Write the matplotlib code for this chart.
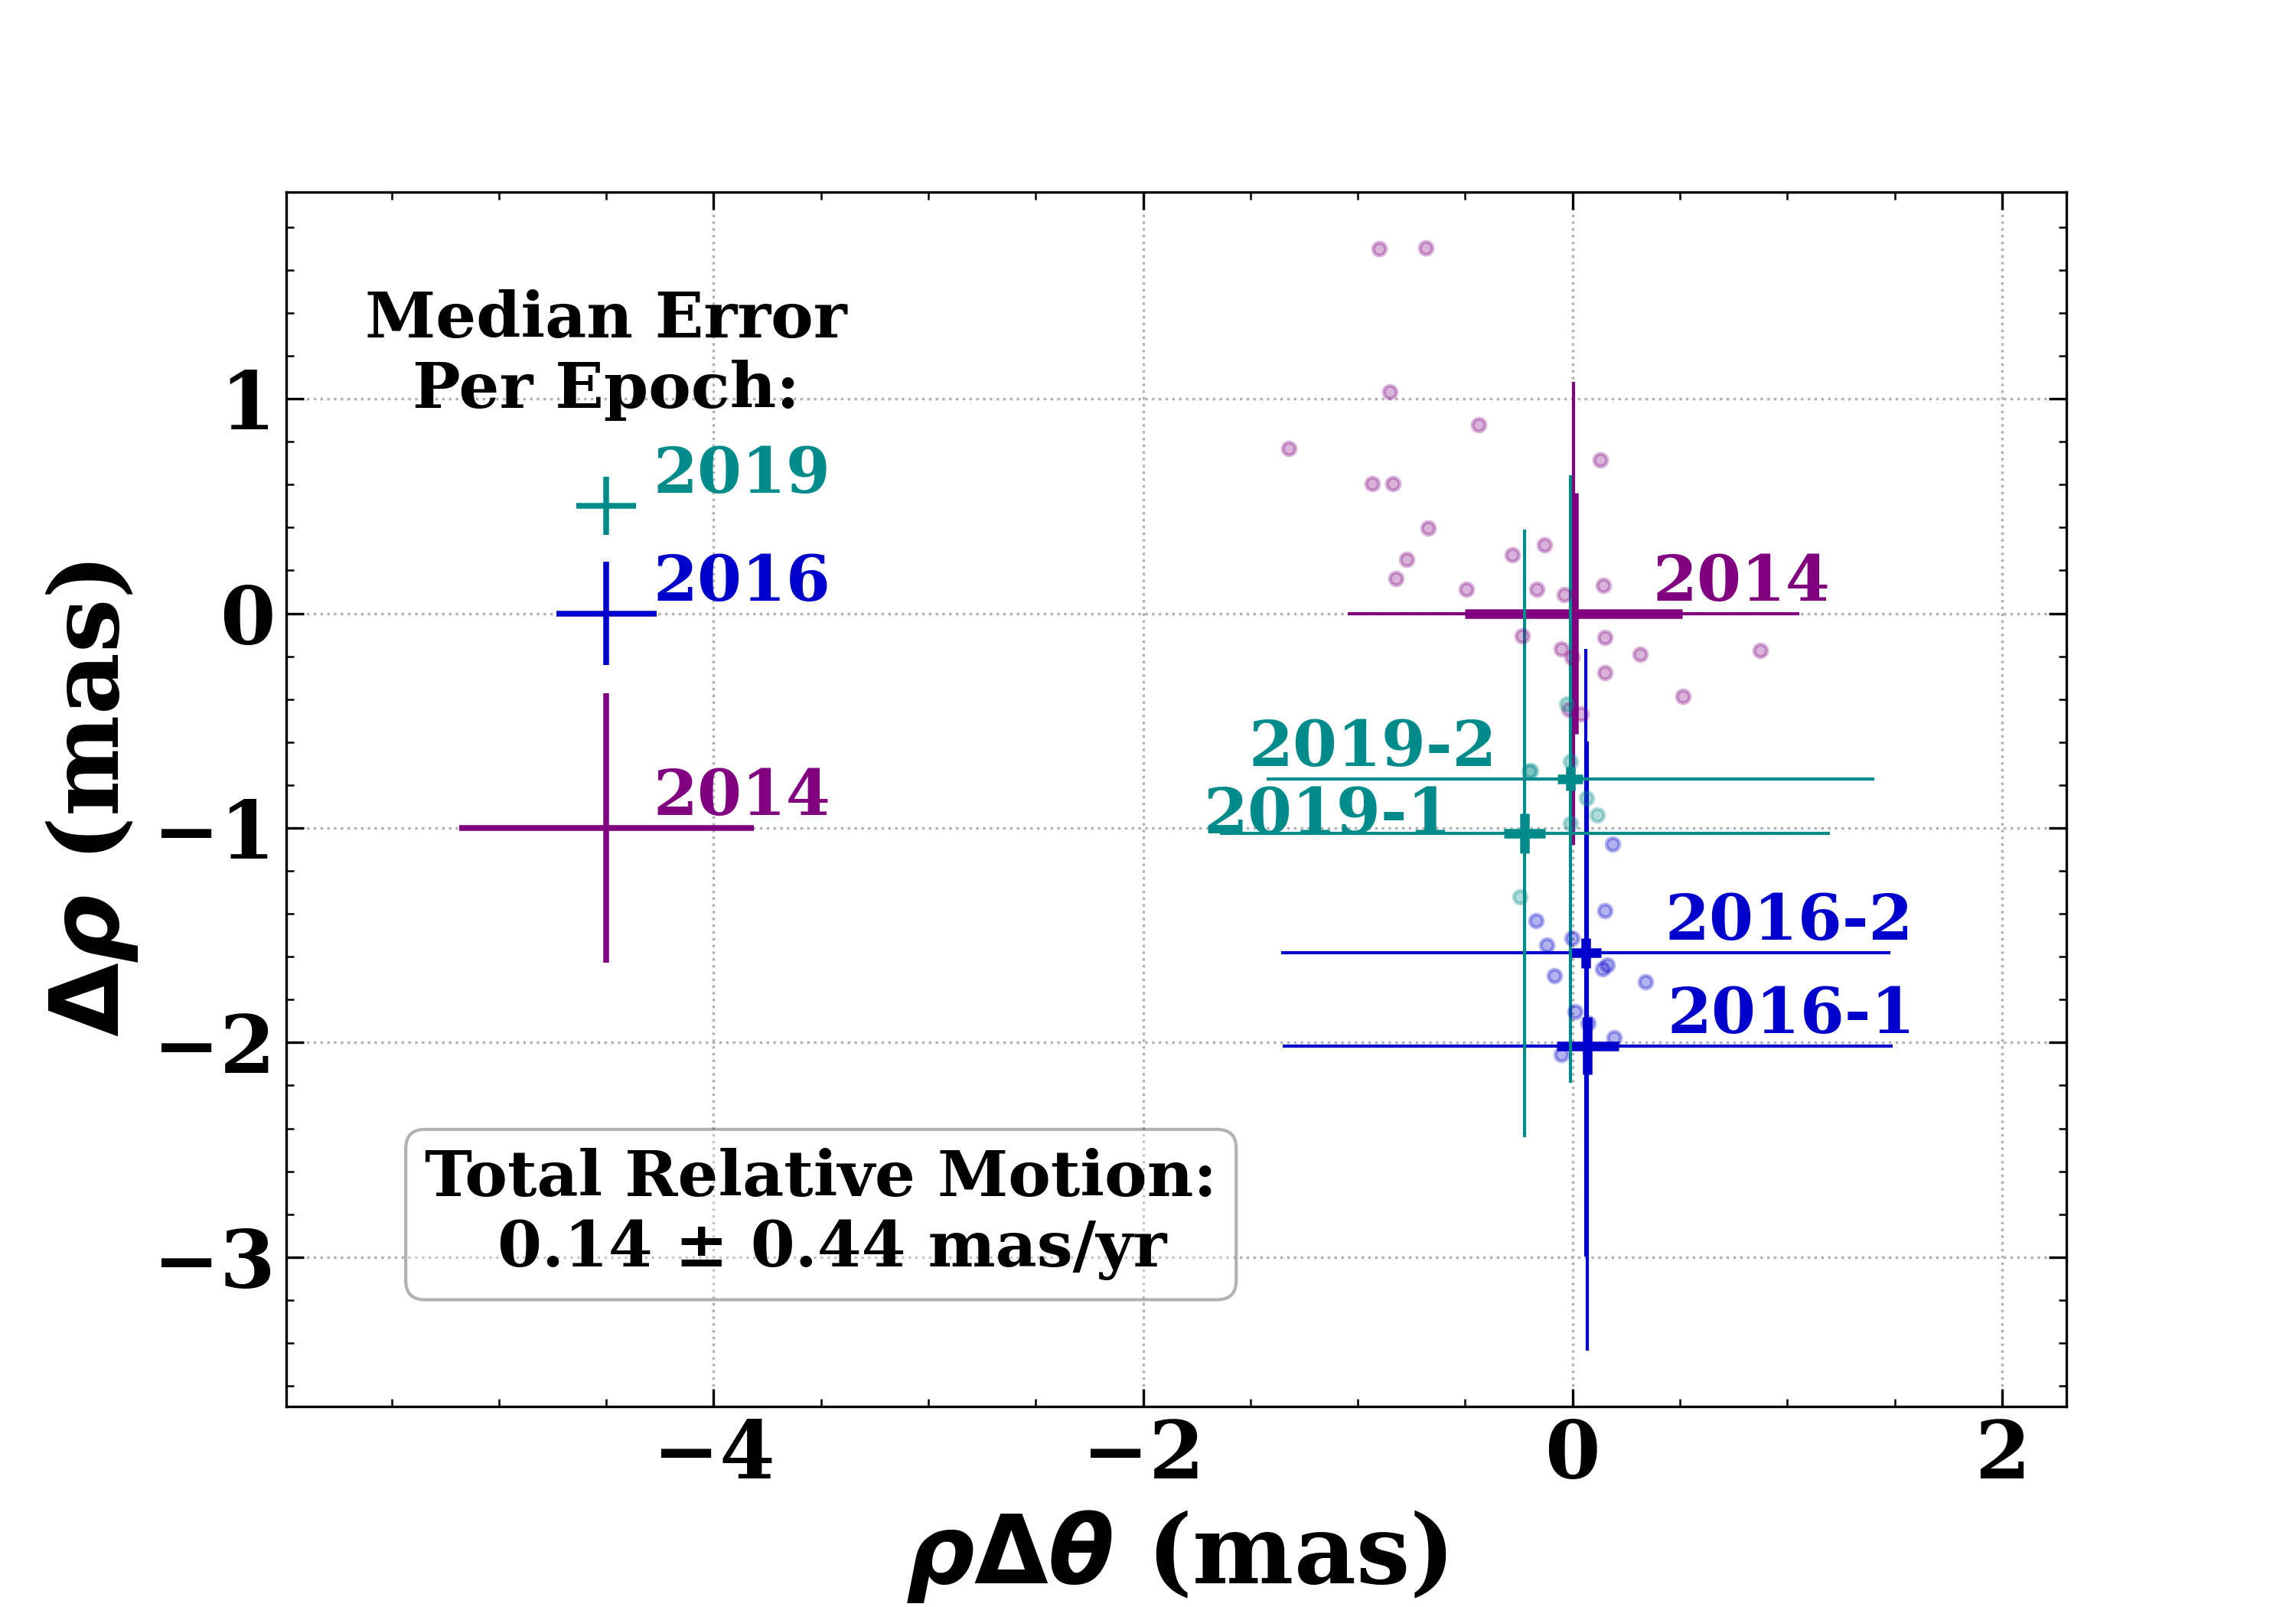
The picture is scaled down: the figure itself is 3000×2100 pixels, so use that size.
import matplotlib.pyplot as plt
from matplotlib.ticker import MultipleLocator

plt.rcParams['font.family'] = ['DejaVu Serif']
plt.rcParams['font.weight'] = 'bold'
plt.rcParams['axes.labelweight'] = 'bold'

PURPLE = '#800080'
BLUE = '#0000CD'
TEAL = '#008B8B'

# epoch positions (mas) with stat. (thick) and total (thin) errors
epochs = ['2014', '2016-1', '2016-2', '2019-1', '2019-2']
ep_x = [0.005, 0.070, 0.062, -0.222, -0.011]
ep_y = [0.000, -2.016, -1.582, -1.024, -0.771]
stat_xerr = [0.506, 0.145, 0.071, 0.096, 0.060]
stat_yerr = [0.563, 0.134, 0.070, 0.092, 0.055]
tot_xerr = [1.052, 1.421, 1.418, 1.420, 1.415]
tot_yerr = [1.078, 1.418, 1.416, 1.416, 1.416]

# median error per epoch
med_years = ['2019', '2016', '2014']
med_y = [0.5, 0.0, -1.0]
med_xerr = [0.138, 0.233, 0.686]
med_yerr = [0.136, 0.241, 0.627]

# individual frames
pts14_x = [-0.902, -0.684, -0.852, -0.439, -1.323, 0.128, -0.932, -0.838, -0.674,
           -0.131, -0.281, -0.772, -0.824, 0.144, -0.495, -0.167, -0.038, -0.234,
           0.151, -0.052, 0.315, 0.873, -0.002, 0.151, 0.514, -0.015, 0.040]
pts14_y = [1.699, 1.703, 1.031, 0.878, 0.768, 0.714, 0.604, 0.604, 0.397,
           0.319, 0.273, 0.250, 0.161, 0.129, 0.112, 0.112, 0.087, -0.105,
           -0.112, -0.166, -0.192, -0.173, -0.205, -0.276, -0.387, -0.446, -0.470]
pts16_x = [0.188, 0.151, -0.170, -0.002, -0.121, 0.160, 0.139, -0.084, 0.339,
           0.013, 0.074, 0.193, -0.053]
pts16_y = [-1.074, -1.387, -1.430, -1.515, -1.544, -1.639, -1.656, -1.689, -1.716,
           -1.857, -1.909, -1.976, -2.054]
pts19_x = [-0.027, -0.010, -0.202, -0.194, 0.065, 0.114, -0.010, -0.246]
pts19_y = [-0.423, -0.690, -0.735, -0.733, -0.862, -0.940, -0.979, -1.320]

motion_text = 'Total Relative Motion:\n 0.14 ± 0.44 mas/yr'

ep_colors = [PURPLE, BLUE, BLUE, TEAL, TEAL]
med_colors = [TEAL, BLUE, PURPLE]

fig = plt.figure(figsize=(10, 7), dpi=300)
ax = fig.add_axes([0.1247, 0.1249, 0.7753, 0.7558])

for i in range(len(epochs)):
    c = ep_colors[i]
    ax.errorbar(ep_x[i], ep_y[i], xerr=tot_xerr[i], yerr=tot_yerr[i],
                fmt='none', ecolor=c, elinewidth=1.0, capsize=0)
    ax.errorbar(ep_x[i], ep_y[i], xerr=stat_xerr[i], yerr=stat_yerr[i],
                fmt='none', ecolor=c, elinewidth=3.0, capsize=0)

for px, py, c in [(pts14_x, pts14_y, PURPLE), (pts16_x, pts16_y, BLUE),
                  (pts19_x, pts19_y, TEAL)]:
    ax.plot(px, py, 'o', color=c, alpha=0.3, ms=4.0, mew=1.2, zorder=4)

# epoch labels
for i, lab in enumerate(epochs):
    c = ep_colors[i]
    if lab.startswith('2019'):
        dy = -0.06 if lab == '2019-1' else 0.0
        ax.text(ep_x[i] - 0.34, ep_y[i] + dy, lab, color=c, fontsize=20,
                ha='right', va='bottom')
    else:
        ax.text(ep_x[i] + 0.37, ep_y[i], lab, color=c, fontsize=20,
                ha='left', va='bottom')

# median error crosses
for yr, y, xe, ye, c in zip(med_years, med_y, med_xerr, med_yerr, med_colors):
    ax.errorbar(-4.5, y, xerr=xe, yerr=ye, fmt='none', ecolor=c,
                elinewidth=1.8, capsize=0)
    ax.text(-4.28, y, yr, color=c, fontsize=20, ha='left', va='bottom')

ax.text(-4.5, 0.957, 'Median Error\nPer Epoch:', fontsize=20,
        ha='center', va='baseline', multialignment='center')

ax.text(-3.5, -3.045, motion_text, fontsize=20, ha='center', va='baseline',
        multialignment='center',
        bbox=dict(boxstyle='round', facecolor='white', alpha=0.3))

ax.set_xlim(-5.99, 2.3)
ax.set_ylim(-3.695, 1.965)

ax.xaxis.set_major_locator(MultipleLocator(2))
ax.xaxis.set_minor_locator(MultipleLocator(0.5))
ax.yaxis.set_major_locator(MultipleLocator(1))
ax.yaxis.set_minor_locator(MultipleLocator(0.2))
ax.tick_params(which='both', direction='in', top=True, right=True, labelsize=25)
ax.tick_params(which='major', length=5.5)
ax.tick_params(which='minor', length=2.5)
ax.grid(True, which='major', ls=':', color='#b0b0b0', lw=0.8)

ax.set_xlabel(r'$\boldsymbol{\rho\Delta\theta}$ (mas)', fontsize=30)
ax.set_ylabel(r'$\boldsymbol{\Delta\rho}$ (mas)', fontsize=30)

fig.savefig('out.png', dpi=300)
